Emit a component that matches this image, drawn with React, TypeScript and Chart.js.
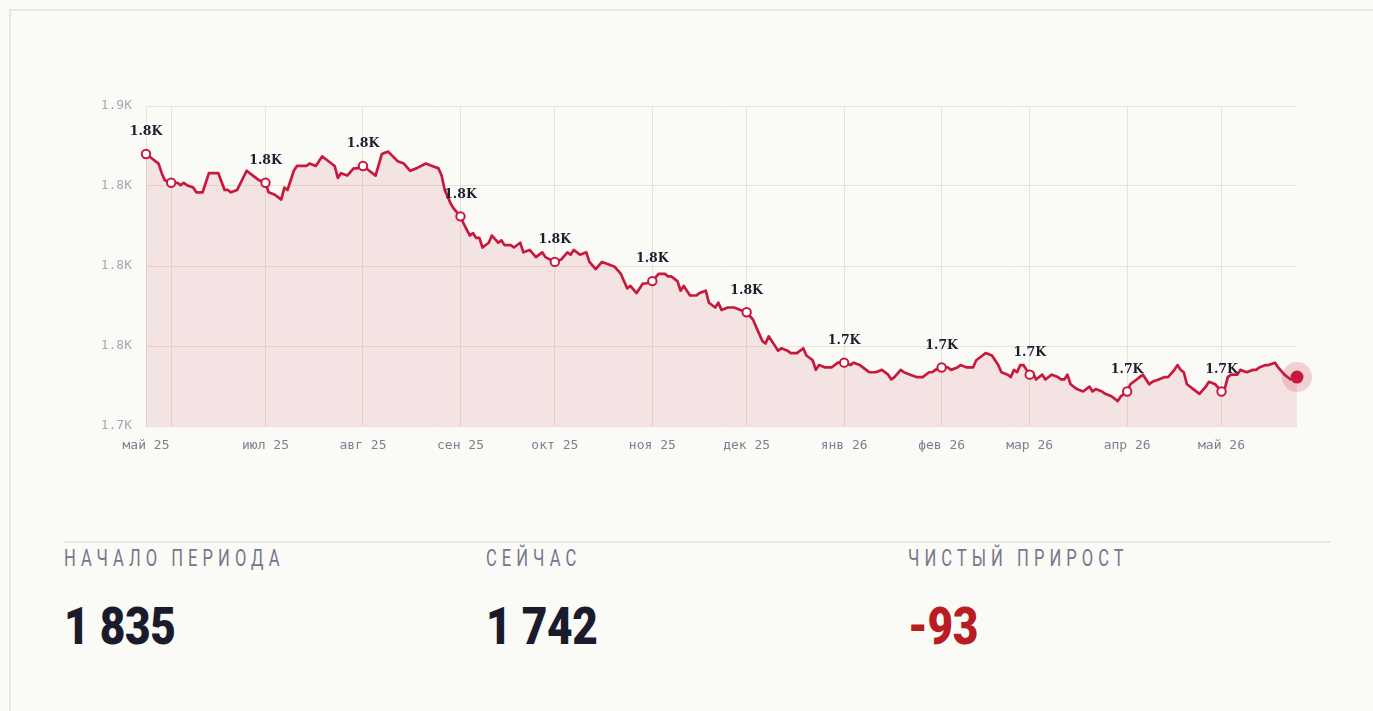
import React, { useEffect, useRef } from 'react';
import { Chart, registerables } from 'chart.js';

Chart.register(...registerables);

// Data: one reading per listed day, offsets counted from START_DATE
const START_DATE = '2025-05-24';
const dayOffsets = [
  0, 2, 4, 5, 6, 8, 10, 11, 12, 13, 15, 16, 18, 19, 20, 23, 25, 26, 27, 29,
  32, 34, 36, 38, 39, 41, 43, 44, 45, 47, 48, 51, 52, 54, 56, 57, 60, 61, 62, 64,
  66, 67, 69, 71, 73, 75, 77, 80, 82, 84, 86, 89, 91, 93, 94, 95, 97, 98, 100, 101,
  103, 104, 105, 106, 107, 109, 110, 112, 113, 114, 116, 117, 119, 120, 122, 124, 126, 127, 130, 132,
  134, 135, 136, 138, 140, 141, 143, 145, 147, 149, 151, 153, 154, 156, 158, 159, 161, 163, 165, 166,
  167, 169, 170, 171, 173, 175, 176, 178, 179, 181, 182, 183, 185, 187, 189, 191, 193, 194, 195, 196,
  197, 198, 200, 201, 202, 204, 205, 207, 209, 210, 212, 213, 214, 216, 218, 220, 222, 224, 225, 227,
  229, 230, 232, 234, 236, 237, 238, 240, 241, 243, 245, 247, 249, 250, 251, 253, 255, 256, 258, 259,
  261, 263, 264, 266, 267, 269, 271, 272, 274, 275, 276, 277, 278, 279, 281, 282, 283, 285, 286, 288,
  290, 291, 292, 293, 294, 296, 298, 300, 301, 302, 304, 305, 307, 309, 310, 312, 313, 315, 317, 319,
  320, 322, 324, 325, 327, 328, 329, 330, 331, 333, 335, 337, 338, 340, 342, 343, 344, 345, 347, 348,
  350, 352, 353, 354, 356, 357, 359, 360, 362, 364, 366,
];
const values = [
  1835, 1833, 1831, 1827, 1824, 1823, 1823, 1822, 1823, 1822, 1821, 1819, 1819, 1823, 1827, 1827, 1820, 1820, 1819, 1820,
  1828, 1826, 1824, 1823, 1819, 1818, 1816, 1821, 1820, 1828, 1830, 1830, 1831, 1830, 1834, 1833, 1830, 1825, 1827, 1826,
  1829, 1829, 1830, 1828, 1826, 1835, 1836, 1832, 1831, 1828, 1829, 1831, 1830, 1829, 1826, 1820, 1814, 1812, 1809, 1806,
  1801, 1802, 1800, 1800, 1796, 1798, 1801, 1798, 1799, 1797, 1797, 1796, 1798, 1794, 1795, 1792, 1794, 1792, 1790, 1791,
  1794, 1793, 1795, 1793, 1794, 1790, 1787, 1790, 1789, 1788, 1785, 1779, 1780, 1777, 1781, 1781, 1782, 1785, 1785, 1784,
  1784, 1782, 1778, 1780, 1776, 1776, 1777, 1778, 1773, 1771, 1773, 1770, 1771, 1771, 1770, 1769, 1766, 1763, 1760, 1757,
  1756, 1759, 1755, 1753, 1754, 1753, 1752, 1752, 1754, 1751, 1749, 1745, 1747, 1746, 1746, 1748, 1748, 1747, 1748, 1747,
  1745, 1744, 1744, 1745, 1743, 1741, 1742, 1745, 1744, 1743, 1742, 1742, 1744, 1744, 1745, 1746, 1746, 1745, 1746, 1747,
  1746, 1746, 1749, 1751, 1752, 1751, 1747, 1744, 1743, 1742, 1745, 1744, 1747, 1747, 1743, 1744, 1741, 1743, 1741, 1743,
  1742, 1741, 1741, 1743, 1739, 1737, 1736, 1738, 1736, 1737, 1736, 1735, 1734, 1732, 1734, 1736, 1739, 1741, 1743, 1739,
  1740, 1741, 1742, 1742, 1745, 1747, 1745, 1744, 1739, 1737, 1735, 1738, 1740, 1739, 1736, 1737, 1742, 1743, 1743, 1745,
  1744, 1745, 1745, 1746, 1747, 1747, 1748, 1746, 1743, 1741, 1742,
];

// Axis ticks (month starts) and their labels
const tickDays = [0, 8, 38, 69, 100, 130, 161, 191, 222, 253, 281, 312, 342];
const tickLabels = ['май 25', '', 'июл 25', 'авг 25', 'сен 25', 'окт 25', 'ноя 25', 'дек 25', 'янв 26', 'фев 26', 'мар 26', 'апр 26', 'май 26'];
const markerDays = tickDays;
const yTickCount = 5;
const Y_MIN = 1721.6;
const Y_MAX = 1855;

const statLabels = ['НАЧАЛО ПЕРИОДА', 'СЕЙЧАС', 'ЧИСТЫЙ ПРИРОСТ'];

const RED = '#c8193c';
const BG = '#fafaf6';
const fmtK = (v: number) => (v / 1000).toFixed(1) + 'K';

const markerLabelPlugin = {
  id: 'markerLabels',
  afterDatasetsDraw(chart: any) {
    const meta = chart.getDatasetMeta(0);
    const ctx = chart.ctx as CanvasRenderingContext2D;
    ctx.save();
    ctx.font = 'bold 12.5px "DejaVu Serif", serif';
    ctx.fillStyle = '#1d1d30';
    ctx.textAlign = 'center';
    ctx.textBaseline = 'middle';
    let lastRight = -Infinity;
    dayOffsets.forEach((d, i) => {
      if (!markerDays.includes(d)) return;
      const pt = meta.data[i];
      if (!pt) return;
      const text = fmtK(values[i]);
      const w = ctx.measureText(text).width;
      if (pt.x - w / 2 < lastRight + 4) return;
      ctx.fillText(text, pt.x, pt.y - 22);
      lastRight = pt.x + w / 2;
    });
    ctx.restore();
  },
};

function LineChart() {
  const ref = useRef<HTMLCanvasElement | null>(null);
  useEffect(() => {
    if (!ref.current) return;
    const lastIdx = values.length - 1;
    const lastPoint = [{ x: dayOffsets[lastIdx], y: values[lastIdx] }];
    const chart = new Chart(ref.current, {
      type: 'line',
      data: {
        datasets: [
          {
            data: dayOffsets.map((d, i) => ({ x: d, y: values[i] })),
            borderColor: RED,
            borderWidth: 2.7,
            borderJoinStyle: 'round',
            backgroundColor: 'rgba(200,25,60,0.10)',
            fill: 'start',
            tension: 0,
            pointRadius: (c: any) => (markerDays.includes(dayOffsets[c.dataIndex]) ? 4.2 : 0),
            pointBackgroundColor: '#ffffff',
            pointBorderColor: RED,
            pointBorderWidth: 2,
            clip: false,
            order: 3,
          } as any,
          {
            data: lastPoint,
            showLine: false,
            pointRadius: 15,
            pointBackgroundColor: 'rgba(200,25,60,0.18)',
            pointBorderWidth: 0,
            clip: false,
            order: 2,
          } as any,
          {
            data: lastPoint,
            showLine: false,
            pointRadius: 6.5,
            pointBackgroundColor: RED,
            pointBorderWidth: 0,
            clip: false,
            order: 1,
          } as any,
        ],
      },
      options: {
        responsive: false,
        animation: false,
        events: [],
        layout: { padding: { top: 106, right: 76, left: 0, bottom: 0 } },
        plugins: { legend: { display: false }, tooltip: { enabled: false } },
        scales: {
          x: {
            type: 'linear',
            min: 0,
            max: dayOffsets[dayOffsets.length - 1],
            afterBuildTicks: (s: any) => {
              s.ticks = tickDays.map((v) => ({ value: v }));
            },
            afterFit: (s: any) => {
              s.height = 54;
            },
            ticks: {
              autoSkip: false,
              maxRotation: 0,
              padding: 12,
              color: '#7f7f91',
              font: { family: '"DejaVu Sans Mono", monospace', size: 13 },
              callback: (_v: any, i: number) => tickLabels[i],
            },
            grid: { color: '#eae2d8', lineWidth: 1, drawTicks: false },
            border: { display: false },
          },
          y: {
            min: Y_MIN,
            max: Y_MAX,
            afterFit: (s: any) => {
              s.width = 146;
            },
            ticks: {
              count: yTickCount,
              padding: 14,
              color: '#a6a6b6',
              font: { family: '"DejaVu Sans Mono", monospace', size: 13 },
              callback: (v: any) => fmtK(Number(v)),
            },
            grid: { color: '#eae2d8', lineWidth: 1, drawTicks: false },
            border: { display: false },
          },
        },
      } as any,
      plugins: [markerLabelPlugin],
    });
    return () => chart.destroy();
  }, []);
  return <canvas ref={ref} width={1373} height={480} style={{ position: 'absolute', left: 0, top: 0 }} />;
}

export default function App() {
  const startValue = values[0];
  const currentValue = values[values.length - 1];
  const net = currentValue - startValue;
  const fmtNum = (n: number) => n.toLocaleString('ru-RU');
  const statValues = [fmtNum(startValue), fmtNum(currentValue), (net < 0 ? '-' : '+') + fmtNum(Math.abs(net))];
  const statColors = ['#1b1b2e', '#1b1b2e', '#b91c22'];
  const colLeft = [64, 486, 908];
  return (
    <div style={{ position: 'fixed', left: 0, top: 0, width: 1373, height: 711, overflow: 'hidden', background: BG }}>
      <div
        style={{
          position: 'absolute',
          left: 9,
          top: 9,
          width: 1420,
          height: 760,
          border: '2px solid #ebe7df',
          boxSizing: 'border-box',
          background: BG,
        }}
      />
      <LineChart />
      <div style={{ position: 'absolute', left: 64, top: 541, width: 1266, height: 2, background: '#ece7df' }} />
      {statLabels.map((label, i) => (
        <React.Fragment key={label}>
          <div
            style={{
              position: 'absolute',
              left: colLeft[i],
              top: 547,
              fontFamily: 'Roboto, sans-serif',
              fontSize: 23,
              lineHeight: 1,
              letterSpacing: '7px',
              color: '#77778b',
              whiteSpace: 'nowrap',
              transform: 'scaleX(0.72)',
              transformOrigin: 'left top',
            }}
          >
            {label}
          </div>
          <div
            style={{
              position: 'absolute',
              left: colLeft[i],
              top: 601,
              fontFamily: 'Roboto, sans-serif',
              fontWeight: 900,
              fontSize: 52,
              lineHeight: 1,
              letterSpacing: '-0.5px',
              color: statColors[i],
              whiteSpace: 'nowrap',
              transform: 'scaleX(0.85)',
              transformOrigin: 'left top',
            }}
          >
            {statValues[i]}
          </div>
        </React.Fragment>
      ))}
    </div>
  );
}
